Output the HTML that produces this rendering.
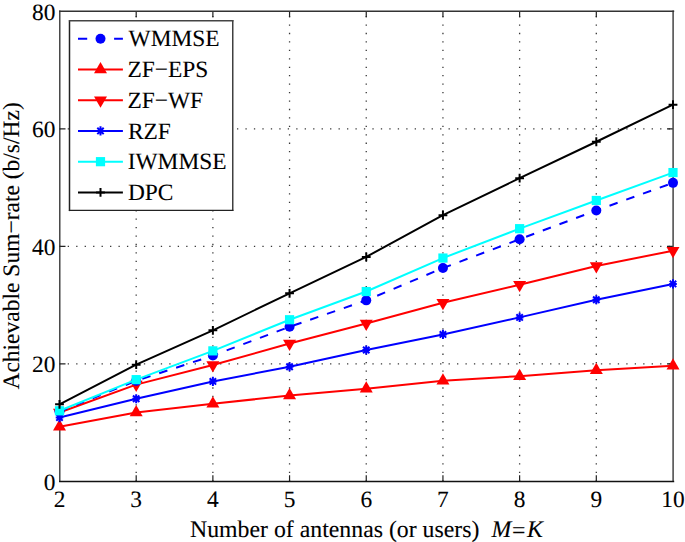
<!DOCTYPE html>
<html><head><meta charset="utf-8"><style>
html,body{margin:0;padding:0;background:#fff;}
body{width:685px;height:542px;overflow:hidden;font-family:"Liberation Serif",serif;}
svg{display:block;}
text{text-rendering:geometricPrecision;stroke:#000;stroke-width:0.1px;}
</style></head><body>
<svg width="685" height="542" viewBox="0 0 685 542" xml:space="preserve">
<line x1="136.19" y1="481.49" x2="136.19" y2="11.30" stroke="#383838" stroke-width="1.3" stroke-dasharray="1.3,7.14" fill="none"/>
<line x1="212.88" y1="481.49" x2="212.88" y2="11.30" stroke="#383838" stroke-width="1.3" stroke-dasharray="1.3,7.14" fill="none"/>
<line x1="289.56" y1="481.49" x2="289.56" y2="11.30" stroke="#383838" stroke-width="1.3" stroke-dasharray="1.3,7.14" fill="none"/>
<line x1="366.25" y1="481.49" x2="366.25" y2="11.30" stroke="#383838" stroke-width="1.3" stroke-dasharray="1.3,7.14" fill="none"/>
<line x1="442.94" y1="481.49" x2="442.94" y2="11.30" stroke="#383838" stroke-width="1.3" stroke-dasharray="1.3,7.14" fill="none"/>
<line x1="519.62" y1="481.49" x2="519.62" y2="11.30" stroke="#383838" stroke-width="1.3" stroke-dasharray="1.3,7.14" fill="none"/>
<line x1="596.31" y1="481.49" x2="596.31" y2="11.30" stroke="#383838" stroke-width="1.3" stroke-dasharray="1.3,7.14" fill="none"/>
<line x1="59.25" y1="363.80" x2="673.00" y2="363.80" stroke="#383838" stroke-width="1.3" stroke-dasharray="1.3,7.163" fill="none"/>
<line x1="59.25" y1="246.30" x2="673.00" y2="246.30" stroke="#383838" stroke-width="1.3" stroke-dasharray="1.3,7.163" fill="none"/>
<line x1="59.25" y1="128.80" x2="673.00" y2="128.80" stroke="#383838" stroke-width="1.3" stroke-dasharray="1.3,7.163" fill="none"/>
<path d="M136.19,481.30v-6M136.19,11.30v6M212.88,481.30v-6M212.88,11.30v6M289.56,481.30v-6M289.56,11.30v6M366.25,481.30v-6M366.25,11.30v6M442.94,481.30v-6M442.94,11.30v6M519.62,481.30v-6M519.62,11.30v6M596.31,481.30v-6M596.31,11.30v6M59.50,363.80h6M673.00,363.80h-6M59.50,246.30h6M673.00,246.30h-6M59.50,128.80h6M673.00,128.80h-6" stroke="#222" stroke-width="1.2" fill="none"/>
<path d="M59.79,10.5V482.1" stroke="#333" stroke-width="1.35" fill="none"/>
<path d="M673.1,10.5V482.1" stroke="#444" stroke-width="1.5" fill="none"/>
<path d="M59.1,11.25H674.2" stroke="#333" stroke-width="1.3" fill="none"/>
<path d="M59.1,481.5H674.2" stroke="#111" stroke-width="1.3" fill="none"/>
<polyline points="59.50,426.66 136.19,412.56 212.88,403.75 289.56,395.52 366.25,388.77 442.94,380.84 519.62,376.14 596.31,370.26 673.00,365.86" stroke="#ff0000" stroke-width="2.0" fill="none" stroke-linejoin="round"/>
<polygon points="59.50,419.16 53.00,430.41 66.00,430.41" fill="#ff0000"/>
<polygon points="136.19,405.06 129.69,416.31 142.69,416.31" fill="#ff0000"/>
<polygon points="212.88,396.25 206.38,407.50 219.38,407.50" fill="#ff0000"/>
<polygon points="289.56,388.02 283.06,399.27 296.06,399.27" fill="#ff0000"/>
<polygon points="366.25,381.27 359.75,392.52 372.75,392.52" fill="#ff0000"/>
<polygon points="442.94,373.34 436.44,384.59 449.44,384.59" fill="#ff0000"/>
<polygon points="519.62,368.64 513.12,379.89 526.12,379.89" fill="#ff0000"/>
<polygon points="596.31,362.76 589.81,374.01 602.81,374.01" fill="#ff0000"/>
<polygon points="673.00,358.36 666.50,369.61 679.50,369.61" fill="#ff0000"/>
<polyline points="59.50,412.56 136.19,384.60 212.88,364.98 289.56,343.53 366.25,323.56 442.94,302.70 519.62,284.78 596.31,265.98 673.00,250.71" stroke="#ff0000" stroke-width="2.0" fill="none" stroke-linejoin="round"/>
<polygon points="59.50,420.06 53.00,408.81 66.00,408.81" fill="#ff0000"/>
<polygon points="136.19,392.10 129.69,380.85 142.69,380.85" fill="#ff0000"/>
<polygon points="212.88,372.48 206.38,361.23 219.38,361.23" fill="#ff0000"/>
<polygon points="289.56,351.03 283.06,339.78 296.06,339.78" fill="#ff0000"/>
<polygon points="366.25,331.06 359.75,319.81 372.75,319.81" fill="#ff0000"/>
<polygon points="442.94,310.20 436.44,298.95 449.44,298.95" fill="#ff0000"/>
<polygon points="519.62,292.28 513.12,281.03 526.12,281.03" fill="#ff0000"/>
<polygon points="596.31,273.48 589.81,262.23 602.81,262.23" fill="#ff0000"/>
<polygon points="673.00,258.21 666.50,246.96 679.50,246.96" fill="#ff0000"/>
<polyline points="59.50,417.56 136.19,398.76 212.88,381.43 289.56,366.74 366.25,349.99 442.94,334.43 519.62,317.39 596.31,299.76 673.00,283.90" stroke="#0000ff" stroke-width="2.0" fill="none" stroke-linejoin="round"/>
<path d="M55.70,417.56H63.30M59.50,412.96V422.16M56.30,414.36L62.70,420.76M56.30,420.76L62.70,414.36" stroke="#0000ff" stroke-width="2" fill="none"/>
<path d="M132.39,398.76H139.99M136.19,394.16V403.36M132.99,395.56L139.39,401.96M132.99,401.96L139.39,395.56" stroke="#0000ff" stroke-width="2" fill="none"/>
<path d="M209.07,381.43H216.68M212.88,376.82V386.03M209.68,378.23L216.07,384.62M209.68,384.62L216.07,378.23" stroke="#0000ff" stroke-width="2" fill="none"/>
<path d="M285.76,366.74H293.36M289.56,362.14V371.34M286.36,363.54L292.76,369.94M286.36,369.94L292.76,363.54" stroke="#0000ff" stroke-width="2" fill="none"/>
<path d="M362.45,349.99H370.05M366.25,345.39V354.59M363.05,346.79L369.45,353.19M363.05,353.19L369.45,346.79" stroke="#0000ff" stroke-width="2" fill="none"/>
<path d="M439.14,334.43H446.74M442.94,329.82V339.03M439.74,331.23L446.14,337.62M439.74,337.62L446.14,331.23" stroke="#0000ff" stroke-width="2" fill="none"/>
<path d="M515.83,317.39H523.42M519.62,312.79V321.99M516.42,314.19L522.83,320.59M516.42,320.59L522.83,314.19" stroke="#0000ff" stroke-width="2" fill="none"/>
<path d="M592.51,299.76H600.11M596.31,295.16V304.36M593.11,296.56L599.51,302.96M593.11,302.96L599.51,296.56" stroke="#0000ff" stroke-width="2" fill="none"/>
<path d="M669.20,283.90H676.80M673.00,279.30V288.50M669.80,280.70L676.20,287.10M669.80,287.10L676.20,280.70" stroke="#0000ff" stroke-width="2" fill="none"/>
<polyline points="59.50,411.39 136.19,380.84 212.88,355.58 289.56,326.79 366.25,300.35 442.94,268.04 519.62,239.25 596.31,210.46 673.00,182.85" stroke="#0000ff" stroke-width="2.0" fill="none" stroke-dasharray="8.6,9.2" stroke-linejoin="round"/>
<circle cx="59.50" cy="411.39" r="5" fill="#0000ff"/>
<circle cx="136.19" cy="380.84" r="5" fill="#0000ff"/>
<circle cx="212.88" cy="355.58" r="5" fill="#0000ff"/>
<circle cx="289.56" cy="326.79" r="5" fill="#0000ff"/>
<circle cx="366.25" cy="300.35" r="5" fill="#0000ff"/>
<circle cx="442.94" cy="268.04" r="5" fill="#0000ff"/>
<circle cx="519.62" cy="239.25" r="5" fill="#0000ff"/>
<circle cx="596.31" cy="210.46" r="5" fill="#0000ff"/>
<circle cx="673.00" cy="182.85" r="5" fill="#0000ff"/>
<polyline points="59.50,410.80 136.19,379.66 212.88,350.88 289.56,319.74 366.25,291.54 442.94,258.05 519.62,228.68 596.31,200.48 673.00,172.57" stroke="#00ffff" stroke-width="2.0" fill="none" stroke-linejoin="round"/>
<rect x="54.90" y="406.20" width="9.20" height="9.20" fill="#00ffff"/>
<rect x="131.59" y="375.06" width="9.20" height="9.20" fill="#00ffff"/>
<rect x="208.28" y="346.27" width="9.20" height="9.20" fill="#00ffff"/>
<rect x="284.96" y="315.14" width="9.20" height="9.20" fill="#00ffff"/>
<rect x="361.65" y="286.94" width="9.20" height="9.20" fill="#00ffff"/>
<rect x="438.34" y="253.45" width="9.20" height="9.20" fill="#00ffff"/>
<rect x="515.02" y="224.08" width="9.20" height="9.20" fill="#00ffff"/>
<rect x="591.71" y="195.88" width="9.20" height="9.20" fill="#00ffff"/>
<rect x="668.40" y="167.97" width="9.20" height="9.20" fill="#00ffff"/>
<polyline points="59.50,404.34 136.19,364.68 212.88,330.31 289.56,293.30 366.25,256.88 442.94,215.16 519.62,178.15 596.31,141.73 673.00,104.71" stroke="#000000" stroke-width="2.0" fill="none" stroke-linejoin="round"/>
<path d="M55.10,404.34H63.90M59.50,399.94V408.74" stroke="#000000" stroke-width="2" fill="none"/>
<path d="M131.79,364.68H140.59M136.19,360.28V369.08" stroke="#000000" stroke-width="2" fill="none"/>
<path d="M208.47,330.31H217.28M212.88,325.91V334.71" stroke="#000000" stroke-width="2" fill="none"/>
<path d="M285.16,293.30H293.96M289.56,288.90V297.70" stroke="#000000" stroke-width="2" fill="none"/>
<path d="M361.85,256.88H370.65M366.25,252.47V261.27" stroke="#000000" stroke-width="2" fill="none"/>
<path d="M438.54,215.16H447.34M442.94,210.76V219.56" stroke="#000000" stroke-width="2" fill="none"/>
<path d="M515.23,178.15H524.02M519.62,173.75V182.55" stroke="#000000" stroke-width="2" fill="none"/>
<path d="M591.91,141.73H600.71M596.31,137.33V146.13" stroke="#000000" stroke-width="2" fill="none"/>
<path d="M668.60,104.71H677.40M673.00,100.31V109.11" stroke="#000000" stroke-width="2" fill="none"/>
<text x="59.50" y="507" font-family="Liberation Serif" font-size="23.4" text-anchor="middle">2</text>
<text x="136.19" y="507" font-family="Liberation Serif" font-size="23.4" text-anchor="middle">3</text>
<text x="212.88" y="507" font-family="Liberation Serif" font-size="23.4" text-anchor="middle">4</text>
<text x="289.56" y="507" font-family="Liberation Serif" font-size="23.4" text-anchor="middle">5</text>
<text x="366.25" y="507" font-family="Liberation Serif" font-size="23.4" text-anchor="middle">6</text>
<text x="442.94" y="507" font-family="Liberation Serif" font-size="23.4" text-anchor="middle">7</text>
<text x="519.62" y="507" font-family="Liberation Serif" font-size="23.4" text-anchor="middle">8</text>
<text x="596.31" y="507" font-family="Liberation Serif" font-size="23.4" text-anchor="middle">9</text>
<text x="673.00" y="507" font-family="Liberation Serif" font-size="23.4" text-anchor="middle">10</text>
<text x="55.5" y="489.80" font-family="Liberation Serif" font-size="23.4" text-anchor="end">0</text>
<text x="55.5" y="372.30" font-family="Liberation Serif" font-size="23.4" text-anchor="end">20</text>
<text x="55.5" y="254.80" font-family="Liberation Serif" font-size="23.4" text-anchor="end">40</text>
<text x="55.5" y="137.30" font-family="Liberation Serif" font-size="23.4" text-anchor="end">60</text>
<text x="55.5" y="19.80" font-family="Liberation Serif" font-size="23.4" text-anchor="end">80</text>
<rect x="69.5" y="20.78" width="163.27" height="189.64" fill="#fff" stroke="none"/>
<path d="M69.5,20.1V211.1" stroke="#222" stroke-width="1.5" fill="none"/>
<path d="M232.77,20.1V211.1" stroke="#333" stroke-width="1.4" fill="none"/>
<path d="M68.9,20.78H233.4" stroke="#444" stroke-width="1.4" fill="none"/>
<path d="M68.9,210.42H233.4" stroke="#222" stroke-width="1.3" fill="none"/>
<path d="M78,38.8H87.2M114.1,38.8H122.9" stroke="#0000ff" stroke-width="2.0"/>
<circle cx="100.50" cy="38.80" r="5" fill="#0000ff"/>
<text x="128.58" y="46.40" font-family="Liberation Serif" font-size="23.4">WMMSE</text>
<path d="M78,69.52H122.9" stroke="#ff0000" stroke-width="2.0"/>
<polygon points="100.50,62.02 94.00,73.27 107.00,73.27" fill="#ff0000"/>
<text x="127.48" y="77.12" font-family="Liberation Serif" font-size="23.4">ZF−EPS</text>
<path d="M78,100.24H122.9" stroke="#ff0000" stroke-width="2.0"/>
<polygon points="100.50,107.74 94.00,96.49 107.00,96.49" fill="#ff0000"/>
<text x="127.48" y="107.84" font-family="Liberation Serif" font-size="23.4">ZF−WF</text>
<path d="M78,130.95999999999998H122.9" stroke="#0000ff" stroke-width="2.0"/>
<path d="M96.70,130.96H104.30M100.50,126.36V135.56M97.30,127.76L103.70,134.16M97.30,134.16L103.70,127.76" stroke="#0000ff" stroke-width="2" fill="none"/>
<text x="127.92" y="138.56" font-family="Liberation Serif" font-size="23.4">RZF</text>
<path d="M78,161.68H122.9" stroke="#00ffff" stroke-width="2.0"/>
<rect x="95.90" y="157.08" width="9.20" height="9.20" fill="#00ffff"/>
<text x="127.76" y="169.28" font-family="Liberation Serif" font-size="23.4">IWMMSE</text>
<path d="M78,192.39999999999998H122.9" stroke="#000000" stroke-width="2.0"/>
<path d="M96.10,192.40H104.90M100.50,188.00V196.80" stroke="#000000" stroke-width="2" fill="none"/>
<text x="127.92" y="200.00" font-family="Liberation Serif" font-size="23.4">DPC</text>
<text x="190.0" y="537" font-family="Liberation Serif" font-size="23.8">Number of antennas (or users)</text>
<text x="491.4" y="537" font-family="Liberation Serif" font-size="23.8" font-style="italic">M</text>
<text x="511.9" y="538.2" font-family="Liberation Serif" font-size="23.8">=</text>
<text x="527.1" y="537" font-family="Liberation Serif" font-size="23.8" font-style="italic">K</text>
<text transform="translate(19.4,245.9) rotate(-90)" font-family="Liberation Serif" font-size="23.5" text-anchor="middle">Achievable Sum−rate (b/s/Hz)</text>
</svg>
</body></html>
